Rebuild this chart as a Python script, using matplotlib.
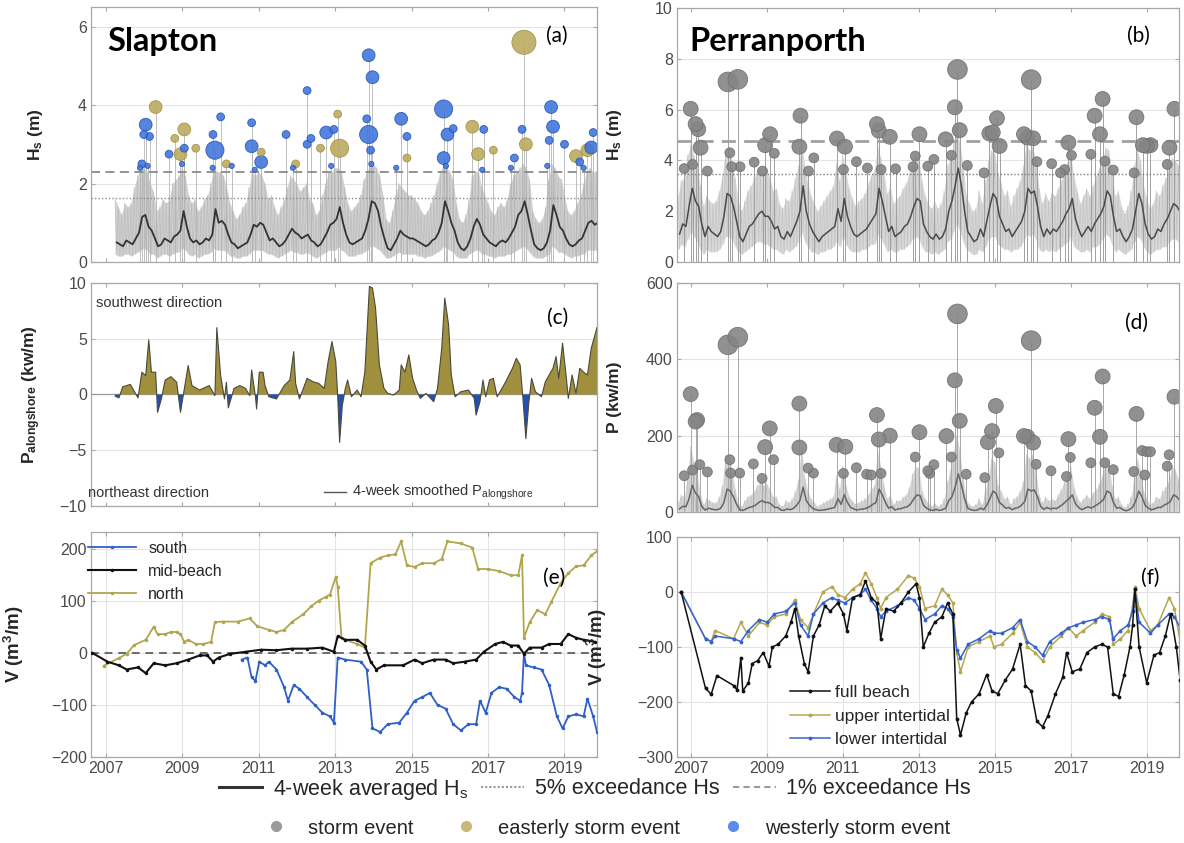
import numpy as np
import matplotlib
matplotlib.use("Agg")
import matplotlib.pyplot as plt
from matplotlib.lines import Line2D

plt.rcParams['font.family'] = ['Liberation Sans', 'DejaVu Sans']
plt.rcParams['mathtext.fontset'] = 'custom'
plt.rcParams['mathtext.rm'] = 'Liberation Sans'
plt.rcParams['mathtext.it'] = 'Liberation Sans:italic'
plt.rcParams['mathtext.bf'] = 'Liberation Sans:bold'

# ---------------- Slapton Hs (a), monthly from Apr 2007 ----------------
a_start = 2007.25
a_mean = [0.5, 0.45, 0.4, 0.55, 0.5, 0.45, 0.6, 0.75, 1.15,
          1.2, 0.9, 0.8, 0.6, 0.4, 0.45, 0.6, 0.55, 0.5, 0.65, 0.7, 0.8,
          1.3, 0.9, 0.6, 0.5, 0.55, 0.45, 0.5, 0.6, 0.55, 0.7, 1.35, 1.0,
          1.05, 0.95, 0.7, 0.5, 0.45, 0.35, 0.4, 0.45, 0.5, 0.7, 0.95, 0.9,
          1.0, 0.95, 0.75, 0.55, 0.6, 0.5, 0.4, 0.45, 0.55, 0.7, 0.85, 0.75,
          0.7, 0.6, 0.65, 0.7, 0.55, 0.5, 0.4, 0.45, 0.6, 0.75, 0.95, 1.0,
          1.1, 1.4, 1.0, 0.7, 0.5, 0.45, 0.5, 0.55, 0.6, 0.8, 1.1, 1.55,
          1.5, 1.3, 0.9, 0.6, 0.35, 0.3, 0.45, 0.6, 0.8, 0.7, 0.65, 0.6,
          0.6, 0.55, 0.5, 0.45, 0.4, 0.45, 0.55, 0.6, 0.75, 1.0, 1.55, 1.3,
          1.0, 0.8, 0.5, 0.35, 0.3, 0.4, 0.6, 0.9, 1.1, 0.95, 0.7, 0.6,
          0.5, 0.45, 0.4, 0.5, 0.55, 0.5, 0.6, 0.75, 0.9, 1.2, 1.3, 1.55,
          1.2, 0.8, 0.45, 0.35, 0.3, 0.35, 0.5, 0.8, 1.45, 1.2, 0.9, 0.8,
          0.6, 0.45, 0.4, 0.45, 0.55, 0.6, 0.8, 1.0, 1.05, 0.95, 1.0, 0.9]
a_hi = [1.6, 1.4, 1.2, 1.5, 1.4, 1.5, 1.9, 2.2, 2.4,
        2.4, 2.3, 2.0, 1.8, 1.3, 1.4, 1.6, 1.5, 1.6, 2.0, 2.1, 2.2,
        2.4, 2.2, 1.7, 1.5, 1.6, 1.3, 1.4, 1.6, 1.7, 2.0, 2.4, 2.3,
        2.3, 2.2, 1.9, 1.5, 1.3, 1.1, 1.2, 1.4, 1.5, 1.9, 2.3, 2.2,
        2.3, 2.2, 2.0, 1.6, 1.7, 1.4, 1.2, 1.4, 1.6, 1.9, 2.2, 2.1,
        2.0, 1.8, 1.9, 2.0, 1.6, 1.5, 1.2, 1.3, 1.7, 2.0, 2.3, 2.3,
        2.4, 2.4, 2.3, 1.9, 1.5, 1.3, 1.4, 1.5, 1.7, 2.1, 2.3, 2.5,
        2.5, 2.4, 2.2, 1.7, 1.1, 1.0, 1.3, 1.7, 2.0, 1.9, 1.8, 1.7,
        1.7, 1.6, 1.5, 1.3, 1.2, 1.3, 1.5, 1.7, 2.0, 2.3, 2.5, 2.4,
        2.3, 2.1, 1.5, 1.1, 1.0, 1.2, 1.6, 2.2, 2.3, 2.3, 1.9, 1.7,
        1.5, 1.3, 1.2, 1.4, 1.5, 1.4, 1.6, 2.0, 2.2, 2.3, 2.4, 2.5,
        2.4, 2.1, 1.3, 1.1, 1.0, 1.1, 1.4, 2.1, 2.5, 2.4, 2.2, 2.1,
        1.7, 1.3, 1.2, 1.3, 1.5, 1.7, 2.0, 2.3, 2.4, 2.3, 2.3, 2.2]
a_lo = [0.2, 0.15, 0.15, 0.2, 0.2, 0.15, 0.2, 0.25, 0.3,
        0.35, 0.3, 0.2, 0.2, 0.1, 0.15, 0.2, 0.2, 0.15, 0.2, 0.25, 0.25,
        0.35, 0.3, 0.2, 0.15, 0.2, 0.1, 0.15, 0.2, 0.2, 0.25, 0.35, 0.3,
        0.3, 0.3, 0.25, 0.15, 0.15, 0.1, 0.1, 0.15, 0.15, 0.2, 0.3, 0.3,
        0.3, 0.3, 0.25, 0.2, 0.2, 0.15, 0.1, 0.15, 0.2, 0.25, 0.3, 0.25,
        0.25, 0.2, 0.2, 0.25, 0.2, 0.15, 0.1, 0.15, 0.2, 0.25, 0.3, 0.3,
        0.3, 0.4, 0.3, 0.25, 0.15, 0.15, 0.15, 0.2, 0.2, 0.25, 0.3, 0.4,
        0.4, 0.35, 0.3, 0.2, 0.1, 0.1, 0.15, 0.2, 0.25, 0.2, 0.2, 0.2,
        0.2, 0.2, 0.15, 0.15, 0.1, 0.15, 0.15, 0.2, 0.25, 0.3, 0.4, 0.35,
        0.3, 0.25, 0.15, 0.1, 0.1, 0.1, 0.2, 0.25, 0.3, 0.3, 0.2, 0.2,
        0.15, 0.15, 0.1, 0.15, 0.15, 0.15, 0.2, 0.2, 0.25, 0.3, 0.35, 0.4,
        0.35, 0.25, 0.15, 0.1, 0.1, 0.1, 0.15, 0.2, 0.4, 0.35, 0.25, 0.25,
        0.2, 0.15, 0.1, 0.15, 0.15, 0.2, 0.2, 0.3, 0.3, 0.3, 0.3, 0.25]
a_hs1 = 2.3    # 1% exceedance
a_hs5 = 1.63   # 5% exceedance

# storm events: time, Hs, direction (W/E), size class
a_ev_t = [2008.05, 2008.0, 2008.15, 2008.31, 2007.95, 2008.66, 2008.81, 2009.06, 2009.06, 2008.96,
          2009.36, 2009.86, 2009.81, 2010.01, 2010.16, 2010.82, 2010.82, 2011.07, 2011.07, 2011.72,
          2011.97, 2012.27, 2012.27, 2012.37, 2012.77, 2012.97, 2013.07, 2013.12, 2012.62, 2013.88,
          2013.98, 2013.88, 2013.83, 2013.93, 2014.73, 2014.88, 2014.88, 2015.84, 2015.94, 2015.84,
          2016.09, 2016.59, 2016.74, 2016.89, 2017.14, 2017.89, 2017.94, 2017.99, 2017.69, 2018.65,
          2018.7, 2018.6, 2019.0, 2019.3, 2019.4, 2019.7, 2019.6, 2019.75,
          2007.9, 2008.1, 2009.0, 2009.8, 2010.3, 2010.9, 2011.9, 2012.9, 2013.95, 2014.6,
          2015.9, 2016.85, 2017.6, 2018.55, 2019.5]
a_ev_hs = [3.5, 3.25, 3.2, 3.95, 2.5, 2.75, 3.15, 3.38, 2.9, 2.75,
           2.9, 2.85, 3.25, 3.7, 2.5, 2.95, 3.55, 2.55, 2.8, 3.25,
           2.5, 4.37, 3.0, 3.15, 3.3, 3.38, 3.77, 2.9, 2.9, 5.27,
           4.71, 3.25, 3.65, 2.85, 3.65, 3.2, 2.65, 3.9, 3.25, 2.65,
           3.4, 3.45, 2.75, 3.38, 2.85, 3.38, 5.6, 3.0, 2.65, 3.95,
           3.45, 3.1, 3.0, 2.7, 2.55, 2.92, 2.85, 3.3,
           2.4, 2.45, 2.5, 2.4, 2.45, 2.35, 2.4, 2.45, 2.5, 2.4,
           2.45, 2.35, 2.4, 2.45, 2.4]
a_ev_dir = list('WWWEWWEEWE' 'EWWWEWWWEW' 'EWWWWWEEEW' 'WWWWWWEWWW'
                'WEEWEWEEWW' 'WWWEWWEW' 'WWWWWWWWWW' 'WWWWW')
a_ev_cls = [2, 1, 1, 2, 1, 1, 1, 2, 1, 2,
            1, 3, 1, 1, 1, 2, 1, 2, 1, 1,
            1, 1, 1, 1, 2, 1, 1, 3, 1, 2,
            2, 3, 1, 1, 2, 1, 1, 3, 2, 2,
            1, 2, 2, 1, 1, 1, 4, 2, 1, 2,
            2, 1, 1, 2, 1, 2, 2, 1,
            0, 0, 0, 0, 0, 0, 0, 0, 0, 0,
            0, 0, 0, 0, 0]

# ---------------- Perranporth Hs (b) and P (d), monthly from Sep 2006 ----------------
b_start = 2006 + 8 / 12
b_mean = [1.1, 1.5, 1.4, 2.2,
          2.9, 2.4, 2.2, 1.5, 1.0, 1.4, 1.2, 1.1, 1.0, 1.2, 1.8, 2.7,
          2.6, 2.2, 1.6, 1.0, 0.8, 1.1, 1.4, 1.5, 1.7, 1.9, 2.0, 1.8,
          1.8, 1.6, 1.3, 1.4, 1.0, 0.9, 1.2, 1.0, 1.3, 1.6, 2.0, 3.0,
          2.0, 1.5, 1.2, 1.0, 0.8, 1.0, 1.1, 1.2, 1.3, 1.4, 2.1, 1.6,
          2.5, 1.8, 1.4, 1.1, 1.0, 1.1, 1.2, 1.3, 1.5, 1.7, 1.9, 2.9,
          2.4, 1.8, 1.2, 1.4, 1.0, 1.1, 1.2, 1.4, 1.5, 1.8, 2.2, 2.5,
          2.4, 1.5, 1.2, 1.0, 0.9, 1.1, 0.9, 1.0, 1.3, 2.0, 2.4, 3.0,
          3.7, 3.0, 2.0, 1.2, 1.0, 0.8, 0.9, 1.3, 1.0, 1.6, 2.2, 2.7,
          2.5, 1.8, 1.5, 1.2, 1.3, 1.0, 1.2, 1.4, 1.6, 2.0, 2.9, 2.7,
          2.8, 2.2, 1.4, 1.0, 1.3, 1.1, 1.3, 1.2, 1.4, 1.6, 1.9, 2.1,
          2.5, 1.7, 1.3, 1.0, 1.2, 1.4, 1.2, 1.5, 1.7, 1.9, 2.2, 2.8,
          2.6, 1.8, 1.2, 1.3, 1.0, 0.8, 1.0, 1.3, 2.0, 2.7, 2.3, 1.5,
          1.1, 0.9, 1.0, 1.3, 1.2, 1.5, 1.7, 2.0, 2.3, 2.2, 2.0]
b_hi = [2.6, 3.2, 3.3, 4.2,
        4.6, 4.2, 3.8, 3.0, 2.2, 2.6, 2.4, 2.3, 2.4, 2.8, 3.4, 4.4,
        4.5, 4.0, 3.3, 2.4, 2.0, 2.4, 2.8, 3.0, 3.3, 3.6, 3.7, 3.5,
        3.6, 3.3, 2.8, 2.9, 2.3, 2.1, 2.5, 2.4, 2.8, 3.3, 3.8, 4.6,
        3.8, 3.1, 2.6, 2.3, 2.0, 2.2, 2.4, 2.6, 2.8, 3.0, 3.9, 3.2,
        4.2, 3.5, 2.9, 2.5, 2.2, 2.4, 2.5, 2.7, 3.1, 3.4, 3.6, 4.6,
        4.1, 3.5, 2.7, 3.0, 2.3, 2.5, 2.6, 2.9, 3.1, 3.5, 4.0, 4.2,
        4.1, 3.2, 2.6, 2.3, 2.1, 2.4, 2.1, 2.3, 2.8, 3.8, 4.1, 4.7,
        5.3, 4.7, 3.8, 2.6, 2.3, 2.0, 2.1, 2.8, 2.3, 3.2, 4.0, 4.4,
        4.3, 3.5, 3.1, 2.6, 2.8, 2.2, 2.6, 2.9, 3.2, 3.8, 4.6, 4.4,
        4.5, 4.0, 2.9, 2.3, 2.7, 2.4, 2.7, 2.6, 2.9, 3.2, 3.6, 3.9,
        4.2, 3.4, 2.8, 2.3, 2.6, 2.9, 2.6, 3.0, 3.4, 3.7, 4.0, 4.5,
        4.4, 3.5, 2.6, 2.8, 2.2, 1.9, 2.2, 2.8, 3.8, 4.4, 4.0, 3.0,
        2.5, 2.1, 2.3, 2.8, 2.6, 3.0, 3.3, 3.7, 4.1, 4.0, 3.8]
b_lo = [0.5, 0.7, 0.6, 0.9,
        1.2, 1.0, 0.8, 0.5, 0.3, 0.5, 0.4, 0.4, 0.4, 0.5, 0.7, 1.0,
        1.0, 0.9, 0.6, 0.4, 0.3, 0.4, 0.5, 0.6, 0.7, 0.8, 0.8, 0.7,
        0.7, 0.6, 0.5, 0.5, 0.4, 0.3, 0.5, 0.4, 0.5, 0.6, 0.8, 1.2,
        0.8, 0.6, 0.4, 0.4, 0.3, 0.4, 0.4, 0.5, 0.5, 0.6, 0.8, 0.6,
        1.0, 0.7, 0.5, 0.4, 0.4, 0.4, 0.5, 0.5, 0.6, 0.7, 0.7, 1.1,
        0.9, 0.7, 0.4, 0.5, 0.4, 0.4, 0.5, 0.5, 0.6, 0.7, 0.9, 1.0,
        0.9, 0.6, 0.4, 0.4, 0.3, 0.4, 0.3, 0.4, 0.5, 0.8, 0.9, 1.2,
        1.5, 1.2, 0.8, 0.5, 0.4, 0.3, 0.3, 0.5, 0.4, 0.6, 0.9, 1.0,
        1.0, 0.7, 0.6, 0.5, 0.5, 0.4, 0.5, 0.5, 0.6, 0.8, 1.1, 1.0,
        1.1, 0.9, 0.5, 0.4, 0.5, 0.4, 0.5, 0.4, 0.5, 0.6, 0.7, 0.8,
        1.0, 0.6, 0.5, 0.4, 0.4, 0.5, 0.4, 0.6, 0.6, 0.7, 0.9, 1.1,
        1.0, 0.7, 0.4, 0.5, 0.4, 0.3, 0.4, 0.5, 0.8, 1.0, 0.9, 0.6,
        0.4, 0.3, 0.4, 0.5, 0.5, 0.6, 0.6, 0.8, 0.9, 0.9, 0.8]
b_hs1 = 4.75
b_hs5 = 3.48

b_ev_t = [2006.83, 2007.0, 2007.13, 2007.2, 2007.26, 2007.05, 2007.44, 2007.98, 2008.24, 2008.03,
          2008.08, 2008.3, 2008.67, 2008.89, 2008.96, 2009.09, 2009.2, 2009.89, 2009.86, 2010.1,
          2010.24, 2010.85, 2011.06, 2011.02, 2011.36, 2011.65, 2011.9, 2011.95, 2012.24, 2012.01,
          2012.39, 2012.85, 2012.91, 2013.02, 2013.24, 2013.4, 2013.71, 2013.86, 2013.95, 2014.02,
          2014.08, 2014.28, 2014.72, 2014.86, 2014.95, 2015.06, 2015.13, 2015.77, 2015.86, 2015.96,
          2016.01, 2016.11, 2016.5, 2016.73, 2016.84, 2016.94, 2017.02, 2017.53, 2017.63, 2017.77,
          2017.84, 2017.9, 2018.12, 2018.67, 2018.73, 2018.9, 2019.0, 2019.1, 2019.54, 2019.6,
          2019.73]
b_ev_hs = [3.68, 6.03, 5.43, 5.23, 4.5, 3.84, 3.58, 7.09, 7.19, 4.3,
           3.75, 3.75, 3.93, 3.58, 4.6, 5.03, 4.28, 5.76, 4.54, 3.58,
           4.1, 4.86, 4.54, 3.64, 3.95, 3.7, 5.43, 5.17, 4.93, 3.64,
           3.67, 3.75, 4.17, 5.03, 3.77, 4.04, 4.83, 4.2, 6.09, 7.58,
           5.19, 3.8, 3.51, 5.06, 5.1, 5.66, 4.57, 5.03, 4.9, 7.18,
           4.87, 3.95, 3.87, 3.51, 3.64, 4.7, 4.2, 4.24, 5.76, 5.03,
           6.42, 3.97, 3.62, 3.51, 5.7, 4.6, 4.57, 4.6, 3.84, 4.5,
           6.03]
b_ev_cls = [1, 2, 2, 2, 2, 1, 1, 3, 3, 1,
            1, 1, 1, 1, 2, 2, 1, 2, 2, 1,
            1, 2, 2, 1, 1, 1, 2, 2, 2, 1,
            1, 1, 1, 2, 1, 1, 2, 1, 2, 3,
            2, 1, 1, 2, 2, 2, 2, 2, 2, 3,
            2, 1, 1, 1, 1, 2, 1, 1, 2, 2,
            2, 1, 1, 1, 2, 2, 2, 2, 1, 2,
            2]

d_mean = [8, 15, 14, 35,
          70, 50, 40, 15, 5, 10, 8, 6, 6, 10, 25, 60,
          55, 40, 20, 6, 4, 8, 12, 14, 18, 25, 30, 25,
          25, 20, 12, 12, 5, 4, 8, 6, 10, 18, 30, 65,
          30, 18, 10, 6, 4, 5, 6, 8, 10, 12, 35, 20,
          45, 25, 12, 8, 5, 7, 8, 10, 14, 20, 25, 60,
          45, 25, 10, 14, 5, 8, 9, 12, 14, 22, 35, 45,
          42, 18, 10, 6, 4, 7, 4, 6, 10, 30, 40, 65,
          100, 70, 35, 10, 6, 4, 5, 10, 6, 18, 35, 55,
          48, 25, 18, 10, 12, 6, 10, 12, 18, 28, 60, 55,
          58, 40, 15, 7, 12, 8, 10, 9, 14, 20, 28, 35,
          45, 22, 12, 6, 10, 14, 10, 15, 20, 26, 35, 55,
          50, 25, 10, 12, 6, 3, 6, 12, 28, 55, 40, 18,
          10, 6, 8, 12, 12, 18, 22, 28, 45, 40, 30]
d_hi = [25, 45, 40, 90,
        170, 130, 100, 50, 20, 35, 30, 25, 25, 40, 70, 150,
        150, 110, 60, 25, 15, 30, 40, 45, 55, 70, 80, 70,
        75, 60, 40, 40, 20, 15, 30, 25, 35, 55, 85, 170,
        90, 55, 35, 25, 15, 20, 25, 30, 35, 40, 95, 60,
        120, 70, 40, 30, 20, 25, 30, 35, 45, 60, 70, 160,
        120, 70, 35, 45, 20, 30, 30, 40, 45, 65, 100, 120,
        115, 55, 35, 25, 15, 25, 15, 20, 35, 80, 110, 160,
        200, 160, 90, 35, 20, 15, 20, 35, 20, 55, 95, 140,
        130, 70, 55, 35, 40, 20, 35, 40, 55, 80, 150, 140,
        150, 110, 45, 25, 40, 30, 35, 30, 45, 60, 80, 95,
        120, 65, 40, 25, 35, 45, 35, 50, 60, 75, 95, 140,
        130, 70, 35, 40, 20, 12, 20, 40, 80, 140, 110, 55,
        35, 20, 25, 40, 35, 55, 65, 80, 120, 110, 85]
d_floor = 2

d_ev_t = [2006.83, 2007.0, 2007.13, 2007.17, 2007.24, 2007.05, 2007.44, 2007.98, 2008.24, 2008.03,
          2008.05, 2008.29, 2008.65, 2008.88, 2008.96, 2009.08, 2009.18, 2009.86, 2009.86, 2010.09,
          2010.23, 2010.84, 2011.07, 2011.02, 2011.36, 2011.63, 2011.75, 2011.9, 2011.95, 2012.01,
          2012.24, 2012.91, 2013.02, 2013.24, 2013.29, 2013.4, 2013.73, 2013.86, 2013.95, 2014.02,
          2014.08, 2014.25, 2014.74, 2014.82, 2014.93, 2015.03, 2015.11, 2015.77, 2015.86, 2015.96,
          2016.01, 2016.09, 2016.48, 2016.89, 2016.94, 2016.99, 2017.53, 2017.63, 2017.77, 2017.84,
          2017.9, 2018.12, 2018.66, 2018.73, 2018.88, 2018.95, 2019.0, 2019.1, 2019.54, 2019.59,
          2019.73]
d_ev_p = [95, 309, 237, 241, 124, 110, 105, 438, 458, 137,
          102, 102, 126, 88, 170, 219, 137, 284, 169, 115,
          102, 176, 171, 101, 116, 99, 97, 254, 190, 101,
          200, 144, 209, 108, 101, 124, 199, 144, 345, 519,
          239, 99, 90, 183, 212, 278, 155, 199, 197, 449,
          182, 125, 108, 93, 191, 143, 129, 273, 197, 355,
          129, 111, 106, 257, 161, 97, 158, 158, 120, 150,
          302]
d_ev_cls = [1, 2, 2, 2, 1, 1, 1, 3, 3, 1,
            1, 1, 1, 1, 2, 2, 1, 2, 2, 1,
            1, 2, 2, 1, 1, 1, 1, 2, 2, 1,
            2, 1, 2, 1, 1, 1, 2, 1, 2, 3,
            2, 1, 1, 2, 2, 2, 1, 2, 2, 3,
            2, 1, 1, 1, 2, 1, 1, 2, 2, 2,
            1, 1, 1, 2, 1, 1, 1, 1, 1, 1,
            2]

# ---------------- Slapton alongshore power (c) ----------------
c_t = [2007.25, 2007.35, 2007.45, 2007.65, 2007.75, 2007.85, 2007.95, 2008.05, 2008.13, 2008.2,
       2008.31, 2008.36, 2008.46, 2008.56, 2008.71, 2008.86, 2008.96, 2009.16, 2009.26, 2009.46,
       2009.71, 2009.86, 2009.91, 2010.01, 2010.11, 2010.16, 2010.21, 2010.36, 2010.51, 2010.66,
       2010.77, 2010.82, 2010.92, 2010.95, 2011.02, 2011.12, 2011.17, 2011.27, 2011.47, 2011.67,
       2011.82, 2011.92, 2011.97, 2012.07, 2012.27, 2012.42, 2012.57, 2012.72, 2012.82, 2012.92,
       2013.02, 2013.07, 2013.12, 2013.19, 2013.27, 2013.33, 2013.43, 2013.58, 2013.68, 2013.78,
       2013.9, 2013.98, 2014.06, 2014.16, 2014.28, 2014.38, 2014.53, 2014.68, 2014.73, 2014.83,
       2014.93, 2015.03, 2015.13, 2015.23, 2015.38, 2015.58, 2015.68, 2015.79, 2015.87, 2015.97,
       2016.04, 2016.14, 2016.29, 2016.49, 2016.64, 2016.69, 2016.79, 2016.87, 2016.94, 2017.04,
       2017.14, 2017.24, 2017.44, 2017.64, 2017.74, 2017.84, 2017.91, 2017.99, 2018.07, 2018.14,
       2018.24, 2018.4, 2018.5, 2018.7, 2018.78, 2018.85, 2018.95, 2019.05, 2019.1, 2019.2,
       2019.3, 2019.4, 2019.5, 2019.6, 2019.7, 2019.85]
c_p = [-0.15, -0.3, 0.7, 0.9, 0.3, -0.3, 2.0, 1.7, 4.9, 2.0,
       2.0, -1.6, -0.4, 1.3, 1.6, 1.1, -1.6, 2.6, 0.8, 0.4,
       0.8, -0.1, 6.0, 1.7, -0.4, 1.1, -1.2, 0.55, 0.8, 0.55,
       -0.1, 2.2, -0.2, -1.3, 2.0, 2.0, 0.8, -0.2, -0.4, 0.8,
       1.3, 3.85, 1.0, -0.4, 1.45, 1.15, 1.0, 0.55, 2.95, 4.75,
       2.95, -0.1, -4.3, -1.0, 0.55, 1.3, -0.2, 0.4, -0.2, 2.0,
       9.7, 9.55, 7.75, 2.65, 0.55, 0.1, -0.05, 0.4, 2.65, 2.0,
       3.55, 1.45, 0.4, -0.35, 0.1, -0.65, 0.55, 4.15, 8.65, 6.25,
       1.75, -0.2, 0.25, 0.4, -0.35, -1.85, -0.65, 1.3, -0.2, 1.3,
       1.45, -0.2, 1.0, 2.35, 3.25, 2.65, -0.2, -3.95, -0.65, 1.45,
       0.25, -0.2, 1.15, 2.35, 3.4, 1.45, 4.6, 1.45, -0.35, 1.75,
       0.1, 2.35, 2.0, 1.75, 4.15, 6.0]

# ---------------- Slapton volumes (e) ----------------
e_south_t = [2010.56, 2010.71, 2010.82, 2010.92, 2011.02, 2011.17, 2011.27, 2011.47, 2011.67, 2011.77,
             2011.92, 2012.07, 2012.27, 2012.47, 2012.67, 2012.87, 2012.97, 2013.07, 2013.27, 2013.68,
             2013.83, 2013.98, 2014.18, 2014.38, 2014.68, 2014.88, 2015.08, 2015.28, 2015.48, 2015.68,
             2015.89, 2016.09, 2016.29, 2016.49, 2016.69, 2016.79, 2016.94, 2017.09, 2017.29, 2017.49,
             2017.69, 2017.84, 2017.89, 2017.94, 2017.99, 2018.19, 2018.4, 2018.6, 2018.8, 2018.95,
             2019.1, 2019.3, 2019.5, 2019.6, 2019.75, 2019.85]
e_south_v = [-13, -9, -47, -54, -17, -24, -17, -32, -66, -92,
             -62, -69, -85, -100, -115, -122, -134, -9, -13, -17,
             -32, -145, -152, -137, -134, -115, -92, -85, -77, -100,
             -107, -137, -149, -137, -137, -92, -115, -77, -66, -69,
             -85, -92, -77, 0, -24, -28, -32, -62, -122, -145,
             -122, -118, -122, -88, -122, -152]
e_mid_t = [2006.65, 2007.05, 2007.35, 2007.55, 2007.85, 2008.05, 2008.26, 2008.56, 2008.86, 2009.16,
           2009.46, 2009.66, 2009.81, 2009.96, 2010.26, 2010.66, 2011.07, 2011.47, 2011.87, 2012.27,
           2012.67, 2012.97, 2013.07, 2013.27, 2013.58, 2013.78, 2013.93, 2014.08, 2014.28, 2014.78,
           2015.08, 2015.28, 2015.58, 2015.89, 2016.09, 2016.39, 2016.69, 2016.89, 2017.19, 2017.39,
           2017.59, 2017.79, 2017.94, 2018.09, 2018.4, 2018.6, 2018.9, 2019.1, 2019.3, 2019.5,
           2019.8]
e_mid_v = [0, -17, -24, -32, -28, -39, -20, -24, -20, -13,
           -5, -5, -17, -9, -2, 2, 6, 5, 8, 8,
           10, 2, 32, 25, 25, 14, -17, -32, -24, -24,
           -13, -20, -13, -13, -20, -17, -13, 2, 17, 21,
           14, 14, -2, 10, 10, 17, 17, 36, 29, 25,
           21]
e_north_t = [2006.95, 2007.35, 2007.55, 2007.75, 2008.05, 2008.26, 2008.36, 2008.56, 2008.71, 2008.86,
             2008.96, 2009.06, 2009.16, 2009.36, 2009.56, 2009.76, 2009.86, 2010.06, 2010.46, 2010.77,
             2010.97, 2011.27, 2011.47, 2011.67, 2011.87, 2012.17, 2012.37, 2012.57, 2012.77, 2012.87,
             2013.02, 2013.07, 2013.17, 2013.27, 2013.58, 2013.78, 2013.93, 2014.18, 2014.38, 2014.58,
             2014.73, 2014.88, 2015.08, 2015.28, 2015.58, 2015.79, 2015.94, 2016.29, 2016.59, 2016.74,
             2016.99, 2017.29, 2017.59, 2017.79, 2017.89, 2017.94, 2018.09, 2018.29, 2018.5, 2018.65,
             2018.9, 2019.1, 2019.3, 2019.5, 2019.7, 2019.85]
e_north_v = [-25, -10, -2, 15, 25, 50, 36, 36, 40, 40,
             36, 21, 25, 17, 17, 21, 59, 60, 60, 66,
             51, 44, 40, 44, 59, 74, 89, 100, 108, 112,
             146, 127, 29, 25, 17, 10, 172, 183, 187, 189,
             214, 168, 165, 172, 172, 180, 214, 210, 202, 161,
             161, 157, 149, 149, 187, 29, 59, 82, 74, 97,
             134, 153, 166, 168, 187, 195]

# ---------------- Perranporth volumes (f) ----------------
f_full_t = [2006.75, 2007.39, 2007.54, 2007.69, 2008.13, 2008.22, 2008.32, 2008.37, 2008.52, 2008.62,
            2008.76, 2008.91, 2009.06, 2009.15, 2009.3, 2009.5, 2009.64, 2009.74, 2009.84, 2009.99,
            2010.09, 2010.23, 2010.38, 2010.53, 2010.67, 2010.87, 2011.02, 2011.11, 2011.26, 2011.46,
            2011.6, 2011.75, 2011.9, 2012.0, 2012.14, 2012.34, 2012.53, 2012.73, 2012.93, 2013.02,
            2013.12, 2013.27, 2013.42, 2013.61, 2013.76, 2013.9, 2014.0, 2014.1, 2014.25, 2014.39,
            2014.59, 2014.79, 2014.93, 2015.08, 2015.28, 2015.47, 2015.67, 2015.81, 2015.96, 2016.11,
            2016.26, 2016.4, 2016.6, 2016.79, 2016.89, 2017.04, 2017.24, 2017.43, 2017.63, 2017.82,
            2017.97, 2018.12, 2018.26, 2018.41, 2018.56, 2018.63, 2018.69, 2018.8, 2019.0, 2019.19,
            2019.34, 2019.49, 2019.63, 2019.78, 2019.88]
f_full_v = [0, -175, -186, -152, -170, -178, -120, -180, -165, -130,
            -125, -110, -135, -100, -95, -80, -55, -30, -80, -130,
            -145, -80, -60, -25, -35, -20, -40, -70, -10, -5,
            20, -10, -20, -85, -30, -35, -20, 0, 15, -10,
            -100, -75, -55, -45, -20, -40, -230, -260, -220, -200,
            -185, -150, -180, -185, -160, -140, -95, -170, -180, -235,
            -245, -225, -185, -155, -110, -145, -140, -110, -100, -95,
            -100, -185, -190, -150, -100, -60, 5, -100, -165, -115,
            -110, -80, -40, -100, -160]
f_tier_t = [2006.75, 2007.39, 2007.54, 2007.64, 2008.13, 2008.32, 2008.52, 2008.81, 2009.01, 2009.2,
            2009.5, 2009.74, 2009.89, 2010.09, 2010.23, 2010.48, 2010.72, 2010.87, 2011.06, 2011.26,
            2011.46, 2011.6, 2011.75, 2011.9, 2012.0, 2012.14, 2012.44, 2012.73, 2012.88, 2013.02,
            2013.17, 2013.42, 2013.61, 2013.76, 2013.9, 2014.0, 2014.1, 2014.3, 2014.59, 2014.88,
            2014.98, 2015.18, 2015.47, 2015.67, 2015.86, 2016.06, 2016.26, 2016.45, 2016.75, 2016.94,
            2017.14, 2017.33, 2017.63, 2017.82, 2018.02, 2018.12, 2018.31, 2018.51, 2018.63, 2018.69,
            2018.8, 2019.1, 2019.29, 2019.59, 2019.73, 2019.88]
f_upper_v = [0, -85, -90, -70, -85, -55, -80, -55, -60, -45,
             -40, -15, -50, -65, -40, 0, 10, -5, -10, 5,
             15, 35, 15, -10, -30, -10, 5, 30, 25, 10,
             -30, -25, 5, -5, -20, -110, -145, -100, -90, -80,
             -100, -95, -75, -55, -100, -110, -125, -100, -80, -65,
             -80, -70, -55, -40, -45, -95, -85, -70, -25, 10,
             -30, -70, -60, -10, -30, -90]
f_lower_v = [0, -85, -90, -80, -85, -90, -70, -50, -55, -40,
             -35, -20, -60, -80, -40, -20, -10, -15, -20, -10,
             -5, 5, -15, -30, -45, -35, -25, -10, -15, -30,
             -50, -40, -25, -30, -45, -105, -120, -95, -85, -70,
             -75, -75, -65, -50, -90, -100, -115, -90, -75, -65,
             -60, -55, -50, -45, -50, -85, -70, -60, -35, 5,
             -55, -75, -60, -40, -45, -65]

year_ticks = [2007, 2009, 2011, 2013, 2015, 2017, 2019]

# ---------------- colours ----------------
TAN = '#bba95c'
TAN_DARK = '#a08f3c'
BLUE = '#3f74dc'
BLUE_DARK = '#2150b4'
GREY_EV = '#858585'
GRID = '#e4e4e4'
TXT = '#262626'

W, H = 1184, 843
fig = plt.figure(figsize=(W / 100, H / 100), dpi=100)


def box(x0, y0, x1, y1):
    return [x0 / W, 1 - y1 / H, (x1 - x0) / W, (y1 - y0) / H]


def style(ax, xlim, ylim, yticks, xlabels=False, xgrid=False):
    ax.set_xlim(*xlim)
    ax.set_ylim(*ylim)
    ax.set_yticks(yticks)
    ax.set_xticks(year_ticks)
    if xlabels:
        ax.set_xticklabels([str(y) for y in year_ticks])
    else:
        ax.set_xticklabels([])
    for s in ax.spines.values():
        s.set_color('#a8a8a8')
        s.set_linewidth(0.9)
    ax.tick_params(direction='in', length=3, colors='#a8a8a8', labelcolor='#4a4a4a',
                   labelsize=11.5, top=True, right=True, pad=3)
    ax.grid(True, axis='y', color=GRID, lw=0.8)
    if xgrid:
        ax.grid(True, axis='x', color=GRID, lw=0.8)
    ax.set_axisbelow(True)


def zigzag(t0, hi, lo):
    n = len(hi)
    t = t0 + np.arange(n) / 12
    x = np.empty(2 * n)
    y = np.empty(2 * n)
    x[0::2] = t
    x[1::2] = t + 1 / 24
    y[0::2] = hi
    y[1::2] = lo
    return x, y


def raw_band(ax, t0, hi, lo, fill_col, line_col):
    t = t0 + np.arange(len(hi)) / 12
    ax.fill_between(t, lo, hi, color=fill_col, lw=0, zorder=1)
    x, y = zigzag(t0, hi, lo)
    ax.plot(x, y, color=line_col, lw=0.5, zorder=1.2)


ax_a = fig.add_axes(box(91, 7, 597, 262))
ax_b = fig.add_axes(box(677, 8, 1179, 262))
ax_c = fig.add_axes(box(91, 283, 597, 506))
ax_d = fig.add_axes(box(677, 283, 1179, 512))
ax_e = fig.add_axes(box(91, 532, 597, 757))
ax_f = fig.add_axes(box(677, 537, 1179, 757))

LEFT_X = (2006.62, 2019.85)
RIGHT_X = (2006.64, 2019.85)

# ---- (a)
style(ax_a, LEFT_X, (0, 6.5), [0, 2, 4, 6])
raw_band(ax_a, a_start, a_hi, a_lo, '#d0d0d0', '#bdbdbd')
ax_a.vlines(a_ev_t, 0, a_ev_hs, color='#b4b4b4', lw=0.6, zorder=1.5)
ax_a.axhline(a_hs5, color='#8a8a8a', lw=1.0, ls=(0, (1, 1.5)), zorder=2)
ax_a.axhline(a_hs1, color='#8a8a8a', lw=1.3, ls=(0, (5, 3)), zorder=2)
ax_a.plot(a_start + np.arange(len(a_mean)) / 12 + 1 / 24, a_mean, color='#333333', lw=1.3, zorder=3)
a_size_map = {0: 14, 1: 32, 2: 85, 3: 170, 4: 300}
a_s = np.array([a_size_map[c] for c in a_ev_cls])
a_fc = [BLUE if d == 'W' else TAN for d in a_ev_dir]
a_ec = [BLUE_DARK if d == 'W' else TAN_DARK for d in a_ev_dir]
order = np.argsort(-a_s)
ax_a.scatter(np.array(a_ev_t)[order], np.array(a_ev_hs)[order], s=a_s[order],
             c=[a_fc[i] for i in order], edgecolors=[a_ec[i] for i in order],
             linewidths=0.6, alpha=0.88, zorder=4)

# ---- (b)
style(ax_b, RIGHT_X, (0, 10), [0, 2, 4, 6, 8, 10])
raw_band(ax_b, b_start, b_hi, b_lo, '#d8d8d8', '#c4c4c4')
ax_b.vlines(b_ev_t, 0, b_ev_hs, color='#a0a0a0', lw=0.7, zorder=1.5)
ax_b.axhline(b_hs5, color='#7a7a7a', lw=1.0, ls=(0, (1, 1.5)), zorder=2)
ax_b.axhline(b_hs1, color='#a0a0a0', lw=2.0, ls=(0, (5, 3)), zorder=2)
ax_b.plot(b_start + np.arange(len(b_mean)) / 12 + 1 / 24, b_mean, color='#4a4a4a', lw=1.1, zorder=3)
b_size_map = {1: 50, 2: 115, 3: 200}
b_s = np.array([b_size_map[c] for c in b_ev_cls])
order = np.argsort(-b_s)
ax_b.scatter(np.array(b_ev_t)[order], np.array(b_ev_hs)[order], s=b_s[order],
             c=GREY_EV, edgecolors='#6e6e6e', linewidths=0.6, alpha=0.9, zorder=4)

# ---- (c)
style(ax_c, LEFT_X, (-10, 10), [-10, -5, 0, 5, 10])
ct = np.array(c_t)
cp = np.array(c_p)
ax_c.fill_between(ct, 0, cp, where=cp >= 0, interpolate=True, color=TAN_DARK, lw=0, zorder=2)
ax_c.fill_between(ct, 0, cp, where=cp <= 0, interpolate=True, color=BLUE_DARK, lw=0, zorder=2)
ax_c.axhline(0, color='#9a9a9a', lw=0.9, zorder=1)
ax_c.plot(ct, cp, color='#4a4a3a', lw=0.8, zorder=3)

# ---- (d)
style(ax_d, RIGHT_X, (0, 600), [0, 200, 400, 600])
raw_band(ax_d, b_start, d_hi, [d_floor] * len(d_hi), '#d8d8d8', '#c4c4c4')
ax_d.vlines(d_ev_t, 0, d_ev_p, color='#a8a8a8', lw=0.7, zorder=1.5)
ax_d.plot(b_start + np.arange(len(d_mean)) / 12 + 1 / 24, d_mean, color='#666666', lw=1.1, zorder=3)
d_s = np.array([b_size_map[c] for c in d_ev_cls])
order = np.argsort(-d_s)
ax_d.scatter(np.array(d_ev_t)[order], np.array(d_ev_p)[order], s=d_s[order],
             c=GREY_EV, edgecolors='#6e6e6e', linewidths=0.6, alpha=0.9, zorder=4)

# ---- (e)
style(ax_e, LEFT_X, (-200, 232), [-200, -100, 0, 100, 200], xlabels=True, xgrid=True)
ax_e.axhline(0, color='#6a6a6a', lw=1.4, ls=(0, (4, 3)), zorder=1)
ax_e.plot(e_south_t, e_south_v, color='#2f5fc8', lw=1.3, marker='.', ms=3, label='south', zorder=3)
ax_e.plot(e_mid_t, e_mid_v, color='#111111', lw=1.5, marker='.', ms=3, label='mid-beach', zorder=3)
ax_e.plot(e_north_t, e_north_v, color='#b3a54e', lw=1.3, marker='.', ms=3, label='north', zorder=2)
ax_e.legend(loc='upper left', bbox_to_anchor=(-0.035, 1.025), frameon=False, fontsize=11.5,
            handlelength=3.0, handletextpad=0.8, labelspacing=0.5, labelcolor=TXT)

# ---- (f)
style(ax_f, RIGHT_X, (-300, 100), [-300, -200, -100, 0, 100], xlabels=True, xgrid=True)
ax_f.plot(f_full_t, f_full_v, color='#111111', lw=1.1, marker='.', ms=3.5, label='full beach', zorder=3)
ax_f.plot(f_tier_t, f_upper_v, color='#b5a74f', lw=1.1, marker='.', ms=3.5, label='upper intertidal', zorder=2)
ax_f.plot(f_tier_t, f_lower_v, color='#3563d0', lw=1.1, marker='.', ms=3.5, label='lower intertidal', zorder=2)
leg_f = ax_f.legend(loc='center', bbox_to_anchor=(0.385, 0.186), frameon=False, fontsize=12.5,
                    handlelength=2.3, handletextpad=0.3, labelspacing=0.5, labelcolor=TXT)
leg_f.set_zorder(5)

# ---- y labels
lab_kw = dict(fontsize=12.5, fontweight='bold', color=TXT)
ax_a.set_ylabel(r'H$_\mathbf{s}$ (m)', **lab_kw)
ax_a.yaxis.set_label_coords(-0.09, 0.5)
ax_b.set_ylabel(r'H$_\mathbf{s}$ (m)', **lab_kw)
ax_b.yaxis.set_label_coords(-0.105, 0.5)
ax_c.set_ylabel(r'P$_\mathbf{alongshore}$ (kw/m)', **lab_kw)
ax_c.yaxis.set_label_coords(-0.095, 0.5)
ax_d.set_ylabel('P (kw/m)', **lab_kw)
ax_d.yaxis.set_label_coords(-0.11, 0.5)
lab_kw2 = dict(fontsize=13.5, fontweight='bold', color=TXT)
ax_e.set_ylabel(r'V (m$^\mathbf{3}$/m)', **lab_kw2)
ax_e.yaxis.set_label_coords(-0.128, 0.5)
ax_f.set_ylabel(r'V (m$^\mathbf{3}$/m)', **lab_kw2)
ax_f.yaxis.set_label_coords(-0.135, 0.5)


# ---- panel texts
def ftext(x, y, s, **kw):
    fig.text(x / W, 1 - y / H, s, **kw)


title_kw = dict(family=['Lato', 'DejaVu Sans'], fontsize=23.5, fontweight='bold', color='black', va='center')
ftext(107, 41, 'Slapton', **title_kw)
ftext(689, 41, 'Perranporth', **title_kw)
letter_kw = dict(family=['Lato', 'DejaVu Sans'], fontsize=15, color='black', ha='center', va='center')
ftext(557, 36, '(a)', **letter_kw)
ftext(1138, 36, '(b)', **letter_kw)
ftext(558, 318, '(c)', **letter_kw)
ftext(1136, 323, '(d)', **letter_kw)
ftext(554, 578, '(e)', **letter_kw)
ftext(1150, 578, '(f)', **letter_kw)

small_kw = dict(fontsize=10.5, color='#333333', va='center')
ftext(96, 303, 'southwest direction', **small_kw)
ftext(88, 493, 'northeast direction', **small_kw)
fig.add_artist(Line2D([324 / W, 346 / W], [1 - 492 / H, 1 - 492 / H], color='#555555', lw=1.0))
ftext(352, 492, r'4-week smoothed P$_\mathregular{alongshore}$', **small_kw)

# ---- shared legend at bottom
row1 = [Line2D([], [], color='#333333', lw=2.2),
        Line2D([], [], color='#9a9a9a', lw=1.5, ls=(0, (1, 1))),
        Line2D([], [], color='#9a9a9a', lw=1.5, ls=(0, (3, 2)))]
fig.legend(row1, [r'4-week averaged H$_\mathregular{s}$', '5% exceedance Hs', '1% exceedance Hs'],
           loc='center', bbox_to_anchor=(595 / W, 1 - 789 / H), ncol=3, frameon=False,
           fontsize=15.5, handlelength=2.0, handletextpad=0.5, columnspacing=0.6, labelcolor=TXT)
row2 = [Line2D([], [], ls='', marker='o', ms=7, mfc='#9b9b9b', mec='#9b9b9b'),
        Line2D([], [], ls='', marker='o', ms=7, mfc='#c9b775', mec='#c9b775'),
        Line2D([], [], ls='', marker='o', ms=7, mfc='#5a8ceb', mec='#5a8ceb')]
fig.legend(row2, ['storm event', 'easterly storm event', 'westerly storm event'],
           loc='center', bbox_to_anchor=(603 / W, 1 - 828 / H), ncol=3, frameon=False,
           fontsize=14.5, handletextpad=0.6, columnspacing=1.6, labelcolor=TXT)

fig.savefig('out.png', dpi=100)
